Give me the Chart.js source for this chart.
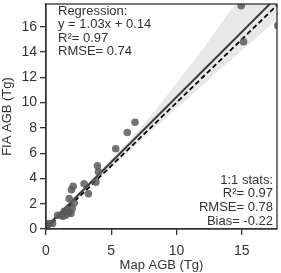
<!DOCTYPE html>
<html>
<head>
<meta charset="utf-8">
<script src="https://cdn.jsdelivr.net/npm/chart.js@4"></script>
<style>
html,body{margin:0;padding:0;background:#fff;}
#wrap{width:281px;height:273px;}
</style>
</head>
<body>
<div id="wrap"><canvas id="c" width="281" height="273"></canvas></div>
<script>
// Observed points (Map AGB vs FIA AGB, Tg)
const mapAGB = [0.0, 0.12, 0.25, 0.5, 0.89, 1.15, 1.3, 1.4, 1.53, 1.65, 1.75, 1.91, 2.0, 1.78, 2.16, 1.95, 2.08, 2.92, 3.25, 3.82, 4.02, 3.94, 5.34, 6.23, 6.82, 14.96, 15.14, 17.76];
const fiaAGB = [0.18, 0.31, 0.44, 0.44, 1.09, 1.09, 1.0, 1.41, 1.1, 1.54, 1.3, 1.23, 1.6, 2.4, 2.05, 3.1, 3.38, 3.57, 2.79, 3.69, 4.53, 5.0, 6.35, 7.63, 8.45, 17.67, 14.81, 16.1];
// Regression line and 1:1 line endpoints
const regX = [0, 17.8];
const regY = [0.14, 18.47];
const oneX = [0, 17.8];
const oneY = [0, 17.8];
// Confidence band
const bandX = [0, 2, 4, 6, 8, 10, 12, 14, 16, 18];
const bandUpper = [0.29, 2.38, 4.48, 6.6, 8.9, 11.55, 14.2, 17.1, 19.8, 22.5];
const bandLower = [-0.01, 2.0, 3.96, 5.82, 7.68, 9.54, 11.4, 13.21, 15.02, 16.88];
// Ticks
const xTicks = [0, 5, 10, 15];
const yTicks = [0, 2, 4, 6, 8, 10, 12, 14, 16];
// Annotations
const regText = ["Regression:", "y = 1.03x + 0.14", "R\u00b2= 0.97", "RMSE= 0.74"];
const statText = ["1:1 stats:", "R\u00b2= 0.97", "RMSE= 0.78", "Bias= -0.22"];

const FONT = "'Liberation Sans', Arial, sans-serif";
const TXT = '#333';

const pts = (xs, ys) => xs.map((x, i) => ({x: x, y: ys[i]}));

const framePlugin = {
  id: 'frame',
  afterDatasetsDraw(chart) {
    const {ctx, chartArea: a} = chart;
    ctx.save();
    ctx.strokeStyle = '#333';
    ctx.lineWidth = 1.3;
    ctx.strokeRect(a.left, a.top, a.right - a.left, a.bottom - a.top);
    ctx.fillStyle = TXT;
    ctx.font = '13px ' + FONT;
    ctx.textBaseline = 'middle';
    ctx.textAlign = 'left';
    regText.forEach((t, i) => ctx.fillText(t, a.left + 12, a.top + 7 + i * 13.5));
    ctx.textAlign = 'right';
    statText.forEach((t, i) => ctx.fillText(t, a.right - 4, a.top + 176 + i * 13.7));
    ctx.restore();
  }
};

new Chart(document.getElementById('c'), {
  type: 'scatter',
  data: {
    datasets: [
      {
        label: 'obs', data: pts(mapAGB, fiaAGB), order: 0, clip: 0,
        backgroundColor: 'rgba(90,90,90,0.85)', borderWidth: 0, pointRadius: 3.8
      },
      {
        label: 'reg', type: 'line', data: pts(regX, regY), order: 1,
        borderColor: '#3a3a3a', borderWidth: 2, pointRadius: 0, fill: false
      },
      {
        label: '1:1', type: 'line', data: pts(oneX, oneY), order: 2,
        borderColor: '#000', borderWidth: 1.8, borderDash: [5, 3], pointRadius: 0, fill: false
      },
      {
        label: 'up', type: 'line', data: pts(bandX, bandUpper), order: 3,
        borderWidth: 0, borderColor: 'rgba(0,0,0,0)', pointRadius: 0,
        backgroundColor: '#e8e8e8', fill: '+1', tension: 0
      },
      {
        label: 'lo', type: 'line', data: pts(bandX, bandLower), order: 4,
        borderWidth: 0, borderColor: 'rgba(0,0,0,0)', pointRadius: 0, fill: false, tension: 0
      }
    ]
  },
  options: {
    responsive: false,
    animation: false,
    devicePixelRatio: 1,
    layout: {padding: {top: 1, right: 3, left: 0, bottom: 0}},
    plugins: {legend: {display: false}, tooltip: {enabled: false}},
    scales: {
      x: {
        type: 'linear', min: 0, max: 17.7,
        afterBuildTicks: s => { s.ticks = xTicks.map(v => ({value: v})); },
        afterFit: s => { s.height = 44; s.paddingLeft = 0; s.paddingRight = 0; },
        grid: {drawOnChartArea: false, drawTicks: true, tickLength: 6, color: '#333', lineWidth: 1.3},
        border: {display: true, color: '#333', width: 1.3},
        ticks: {color: TXT, font: {family: FONT, size: 14}, padding: 8, maxRotation: 0},
        title: {display: true, text: 'Map AGB (Tg)', color: TXT, font: {family: FONT, size: 13}, padding: {top: 0, bottom: 0}}
      },
      y: {
        type: 'linear', min: 0, max: 17.8,
        afterBuildTicks: s => { s.ticks = yTicks.map(v => ({value: v})); },
        afterFit: s => { s.width = 46; s.paddingTop = 0; s.paddingBottom = 0; },
        grid: {drawOnChartArea: false, drawTicks: true, tickLength: 6, color: '#333', lineWidth: 1.3},
        border: {display: true, color: '#333', width: 1.3},
        ticks: {color: TXT, font: {family: FONT, size: 14}, padding: 3},
        title: {display: true, text: 'FIA AGB (Tg)', color: TXT, font: {family: FONT, size: 13}, padding: {top: 0, bottom: 0}}
      }
    }
  },
  plugins: [framePlugin]
});
</script>
</body>
</html>
